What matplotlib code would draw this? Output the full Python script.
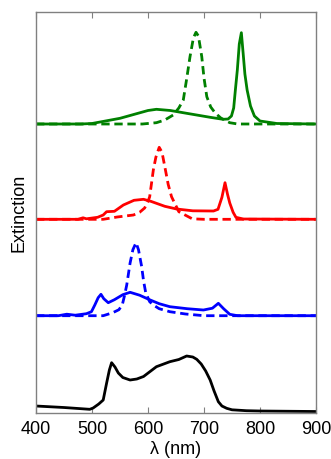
import matplotlib
matplotlib.use("Agg")
import matplotlib.pyplot as plt

plt.rcParams['font.family'] = ['Liberation Sans', 'DejaVu Sans']

# ---- data (arbitrary extinction units) ----
offsets = {"black": 0, "blue": 97.3, "red": 193.7, "green": 289}

black_wl = [400, 450, 496, 502, 512, 520, 526, 531, 535, 541, 547, 555, 568, 580, 592, 615, 639, 655, 669, 680, 687, 695, 703, 711, 718, 725.6, 732, 740.5, 750, 776, 800, 900]
black_v  = [7, 5.5, 3.7, 5, 9, 13, 29.7, 43, 50.3, 46, 40, 35.5, 33, 34, 36.5, 46.3, 51.3, 53.5, 57, 56, 53.7, 49, 42, 33, 22, 11.3, 7, 4.7, 3.2, 2.3, 2, 1.5]

blue_wl = [400, 440, 455, 470, 490, 499, 505, 511, 516, 521, 529, 540, 555, 568, 585, 604, 620, 639, 670, 699, 715, 725.6, 735, 746, 760, 900]
blue_v  = [0, 0, 1.5, 0.5, 2, 4, 10.7, 18, 21.4, 17, 13, 16, 21, 23.4, 20.5, 15.7, 12, 9, 7, 5.7, 7.5, 12.4, 7, 1.4, 0, 0]
blue_d_wl = [400, 520, 537, 548, 554, 558, 562, 568, 573, 578.6, 583, 588.7, 592, 596, 603, 609.5, 620, 639, 667, 700, 900]
blue_d_v  = [0, 0, 3, 6, 10.7, 20, 30.7, 52.7, 66, 73, 66, 49, 35, 22.7, 14, 10.7, 7, 4, 1.7, 0, 0]

red_wl = [400, 475, 484, 490, 510, 520, 526, 540, 556, 575, 592, 605, 630, 651, 680, 717, 725, 732, 737.5, 742, 746, 752, 757, 770, 900]
red_v  = [0, 0, 1.5, 0.5, 2, 4.3, 7.6, 8, 14.3, 19, 20, 18, 13, 10.3, 8.5, 8.3, 10, 22, 36.6, 25, 16.3, 7, 2, 0.3, 0]
red_d_wl = [400, 520, 545, 574, 585, 594, 600, 603, 609.5, 614, 620, 625, 630, 636, 642, 655, 679, 700, 900]
red_d_v  = [0, 0, 2.3, 4.3, 7, 11.3, 18, 22.6, 49.3, 62, 72, 67, 52.6, 35, 22.6, 7.6, 0.5, 0, 0]

green_wl = [400, 480, 500, 550, 600, 615, 640, 669, 711, 734, 743, 749, 753, 756, 759.5, 763, 766.7, 770, 773, 777, 783, 790, 800, 830, 900]
green_v  = [0, 0, 0.5, 5.7, 13.5, 14.7, 13.5, 10.7, 6.7, 4.7, 5, 8, 16, 34, 54, 80, 91.3, 70, 50, 34, 18, 8, 3, 0.5, 0]
green_d_wl = [400, 590, 615, 630, 645, 655, 663, 669, 675, 681, 685.7, 690, 696, 700, 705, 712, 720, 730, 746, 760, 900]
green_d_v  = [0, 0, 1.3, 4, 9, 16, 24, 45, 67.3, 86, 91.7, 88, 67.3, 46, 27.3, 17, 11, 6, 1.3, 0, 0]

xticks = [400, 500, 600, 700, 800, 900]

# ---- figure ----
fig = plt.figure(figsize=(3.31, 4.59), dpi=100)
ax = fig.add_axes([0.1088, 0.1002, 0.9547 - 0.1088, 0.9732 - 0.1002])

lw = 2.0
dash = (3.0, 1.7)

def shift(v, o):
    return [x + o for x in v]

ax.plot(black_wl, shift(black_v, offsets["black"]), color="black", lw=lw)
ax.plot(blue_wl, shift(blue_v, offsets["blue"]), color="#0000ff", lw=lw)
ax.plot(blue_d_wl, shift(blue_d_v, offsets["blue"]), color="#0000ff", lw=lw, linestyle=(0, dash))
ax.plot(red_wl, shift(red_v, offsets["red"]), color="#ff0000", lw=lw)
ax.plot(red_d_wl, shift(red_d_v, offsets["red"]), color="#ff0000", lw=lw, linestyle=(0, dash))
ax.plot(green_wl, shift(green_v, offsets["green"]), color="#008000", lw=lw)
ax.plot(green_d_wl, shift(green_d_v, offsets["green"]), color="#008000", lw=lw, linestyle=(0, dash))

ax.set_xlim(400, 900)
ax.set_ylim(0, 400.7)
ax.set_xticks(xticks)
ax.set_xticklabels([str(t) for t in xticks], fontsize=13)
ax.set_yticks([])
ax.tick_params(axis='x', direction='in', top=True, bottom=True, length=4, width=0.8,
               color='#808080', pad=6)
for s in ax.spines.values():
    s.set_color('#808080')
    s.set_linewidth(1.0)

ax.set_xlabel("λ (nm)", fontsize=13, labelpad=2)
ax.set_ylabel("Extinction", fontsize=13, labelpad=6)

fig.savefig("out.png", dpi=100)
